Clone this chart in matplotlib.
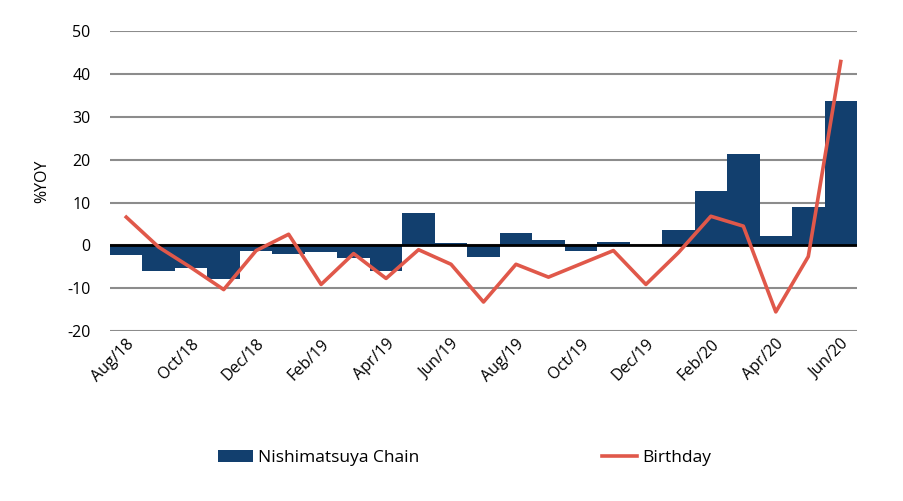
import numpy as np
import matplotlib
matplotlib.use("Agg")
import matplotlib.pyplot as plt

months = ["Aug/18", "Sep/18", "Oct/18", "Nov/18", "Dec/18", "Jan/19", "Feb/19", "Mar/19",
          "Apr/19", "May/19", "Jun/19", "Jul/19", "Aug/19", "Sep/19", "Oct/19", "Nov/19",
          "Dec/19", "Jan/20", "Feb/20", "Mar/20", "Apr/20", "May/20", "Jun/20"]
nishimatsuya = [-2.3, -5.9, -5.3, -7.8, -1.3, -2.0, -1.5, -3.0, -6.0, 7.5, 0.6, -2.7,
                 2.8, 1.2, -1.3, 0.7, 0.1, 3.7, 12.6, 21.4, 2.1, 8.9, 33.8]
birthday = [6.6, -0.4, -5.2, -10.3, -1.2, 2.6, -9.1, -1.9, -7.7, -1.0, -4.4, -13.2,
            -4.4, -7.4, -4.3, -1.2, -9.1, -1.7, 6.8, 4.5, -15.5, -2.6, 42.9]

plt.rcParams['font.family'] = ['Open Sans', 'DejaVu Sans']
plt.rcParams['axes.unicode_minus'] = False

fig = plt.figure(figsize=(9.04, 5.01), dpi=100)
ax = fig.add_axes([0.1217, 0.339, 0.948 - 0.1217, 0.938 - 0.339])

x = np.arange(len(months))
bars = ax.bar(x, nishimatsuya, width=1.0, color='#123F6E', label='Nishimatsuya Chain', zorder=2)
line, = ax.plot(x, birthday, color='#E0584A', lw=2.6, label='Birthday', zorder=4)
ax.axhline(0, color='black', lw=2, zorder=3)

ax.set_xlim(-0.5, len(months) - 0.5)
ax.set_ylim(-20, 50)
ax.set_yticks(range(-20, 51, 10))
ax.yaxis.grid(True, color='#8c8c8c', lw=1.5, zorder=0)
ax.set_axisbelow(True)
for s in ax.spines.values():
    s.set_visible(False)
ax.tick_params(length=0, labelsize=11.5)
ax.tick_params(axis='y', pad=14)
ax.set_xticks(x[::2])
ax.set_xticklabels(months[::2], rotation=45, ha='right', rotation_mode='anchor')
ax.set_ylabel('%YOY', fontsize=11.5, labelpad=12)

fig.legend([bars, line], ['Nishimatsuya Chain', 'Birthday'], loc='center',
           bbox_to_anchor=(0.514, 0.085), ncol=2, frameon=False,
           fontsize=12.5, columnspacing=10.5, handlelength=2.0, handletextpad=0.3)

fig.savefig('out.png', dpi=100)
